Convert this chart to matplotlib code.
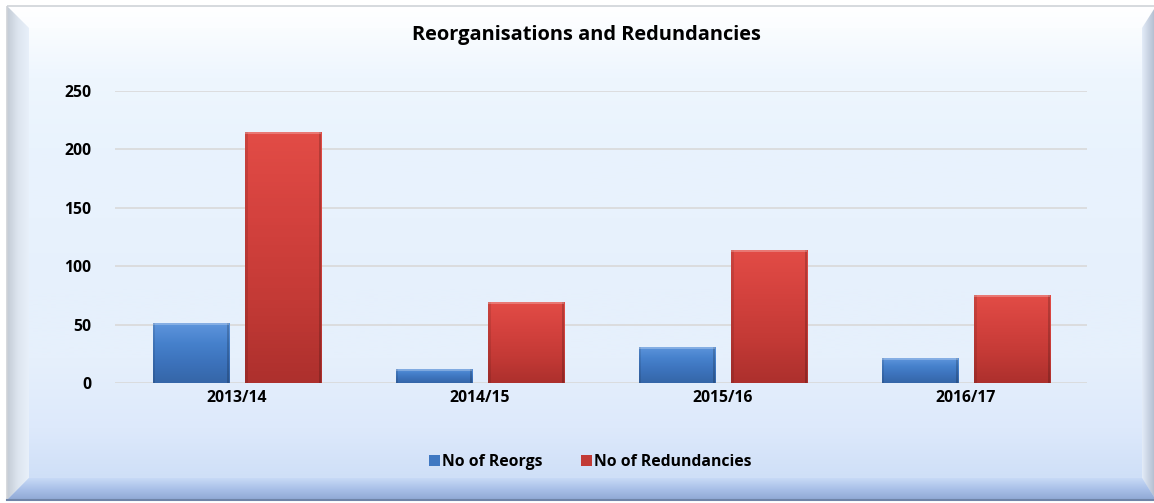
import numpy as np
import matplotlib.pyplot as plt
from matplotlib.patches import Polygon, Rectangle
from matplotlib.colors import LinearSegmentedColormap

plt.rcParams['font.family'] = ['Open Sans', 'DejaVu Sans']

years = ['2013/14', '2014/15', '2015/16', '2016/17']
reorgs = [51, 12, 31, 21]
redundancies = [215, 69, 114, 75]

W, H = 1154, 503
fig = plt.figure(figsize=(W / 100, H / 100), dpi=100)
fig.patch.set_facecolor('white')

# background frame with a bevel, in pixel coordinates
bg = fig.add_axes([0, 0, 1, 1])
bg.set_xlim(0, W)
bg.set_ylim(H, 0)
bg.axis('off')


def grad_poly(pts, colors, vertical=True, z=1):
    cm = LinearSegmentedColormap.from_list('g', colors)
    xs = [p[0] for p in pts]
    ys = [p[1] for p in pts]
    arr = np.linspace(0, 1, 256)
    arr = arr.reshape(-1, 1) if vertical else arr.reshape(1, -1)
    im = bg.imshow(arr, cmap=cm, extent=(min(xs), max(xs), max(ys), min(ys)),
                   aspect='auto', zorder=z, interpolation='bilinear')
    poly = Polygon(pts, closed=True, facecolor='none', edgecolor='none')
    bg.add_patch(poly)
    im.set_clip_path(poly)


L, T, R, B = 7, 6, W + 2, 500
d = 22
# body
grad_poly([(L, T), (R, T), (R, B), (L, B)],
          ['#ffffff', '#eef6fe', '#e9f3fd', '#e8f2fd', '#e6f0fc', '#e6f0fc', '#dde9fb', '#c9dbf6'], z=0)
# top bevel
grad_poly([(L, T), (R, T), (R - 14, T + d), (L + d, T + d)], ['#ffffff', '#fbfdff'], z=1)
# left bevel
grad_poly([(L, T), (L + d, T + d), (L + d, B - d), (L, B)],
          ['#c3cbd5', '#dde5ef', '#e8f0fa'], vertical=False, z=1)
# right bevel
grad_poly([(R - 14, T + d), (R, T), (R, B), (R - 14, B - d)],
          ['#e4ecf8', '#c7d2e2', '#aeb9cb'], vertical=False, z=1)
# bottom bevel
grad_poly([(L + d, B - d), (R - 14, B - d), (R, B), (L, B)],
          ['#c8daf6', '#a9c0e8', '#8fa8d4'], z=1)
bg.add_patch(Rectangle((L, T), R - L, B - T, fill=False, edgecolor='#cfd3d8', lw=1.2, zorder=2))
bg.plot([L, R], [B, B], color='#6f84a8', lw=1.5, zorder=2)

# plot area: x 115..1087, y 91 (250) .. 383 (0)
ax = fig.add_axes([115 / W, 1 - 383 / H, (1087 - 115) / W, (383 - 91) / H])
ax.patch.set_alpha(0)
x = np.arange(len(years))
bw = 0.313
b1 = ax.bar(x - 0.1875, reorgs, bw, color='#3f78c2', zorder=3)
b2 = ax.bar(x + 0.193, redundancies, bw, color='#c23a36', zorder=3)

# gradients inside bars
blue = LinearSegmentedColormap.from_list('b', ['#5e95dc', '#4681cc', '#3c72bb', '#3566a8'])
red = LinearSegmentedColormap.from_list('r', ['#e24c46', '#d4423e', '#c43a36', '#ad302d'])
for bars, cm in ((b1, blue), (b2, red)):
    for b in bars:
        x0, y0, w, h = b.get_x(), b.get_y(), b.get_width(), b.get_height()
        im = ax.imshow(np.linspace(0, 1, 64).reshape(-1, 1), cmap=cm, aspect='auto',
                       extent=(x0, x0 + w, y0, y0 + h), origin='upper', zorder=4)
        im.set_clip_path(b)
        # shaded sides and a light top edge
        ax.add_patch(Rectangle((x0, y0), w * 0.03, h, facecolor='black', alpha=0.1,
                               edgecolor='none', zorder=5))
        ax.add_patch(Rectangle((x0 + w * 0.97, y0), w * 0.03, h, facecolor='black', alpha=0.18,
                               edgecolor='none', zorder=5))
        ax.add_patch(Rectangle((x0, y0 + h - 1.6), w, 1.6, facecolor='white', alpha=0.25,
                               edgecolor='none', zorder=5))

ax.set_xlim(-0.5, len(years) - 0.5)
ax.set_ylim(0, 250)
ax.set_yticks(range(0, 251, 50))
ax.set_xticks(x)
ax.set_xticklabels(years)
ax.grid(axis='y', color='#d9d9d9', lw=1.2, zorder=1)
ax.set_axisbelow(True)
for s in ax.spines.values():
    s.set_visible(False)
ax.tick_params(length=0, labelsize=11.3, pad=17)
ax.tick_params(axis='x', pad=5)
for lab in ax.get_xticklabels() + ax.get_yticklabels():
    lab.set_fontweight('bold')
ax.autoscale(False)

fig.text(586 / W, 1 - 35 / H, 'Reorganisations and Redundancies', ha='center', va='center',
         fontsize=14.4, fontweight='bold')

leg = ax.legend([b1, b2], ['No of Reorgs', 'No of Redundancies'], loc='center',
                bbox_to_anchor=(0.489, -0.27), ncol=2, frameon=False, fontsize=11.3,
                handlelength=0.7, handleheight=0.7, handletextpad=0.15, columnspacing=2.4)
for t in leg.get_texts():
    t.set_fontweight('bold')

fig.savefig('out.png', dpi=100)
